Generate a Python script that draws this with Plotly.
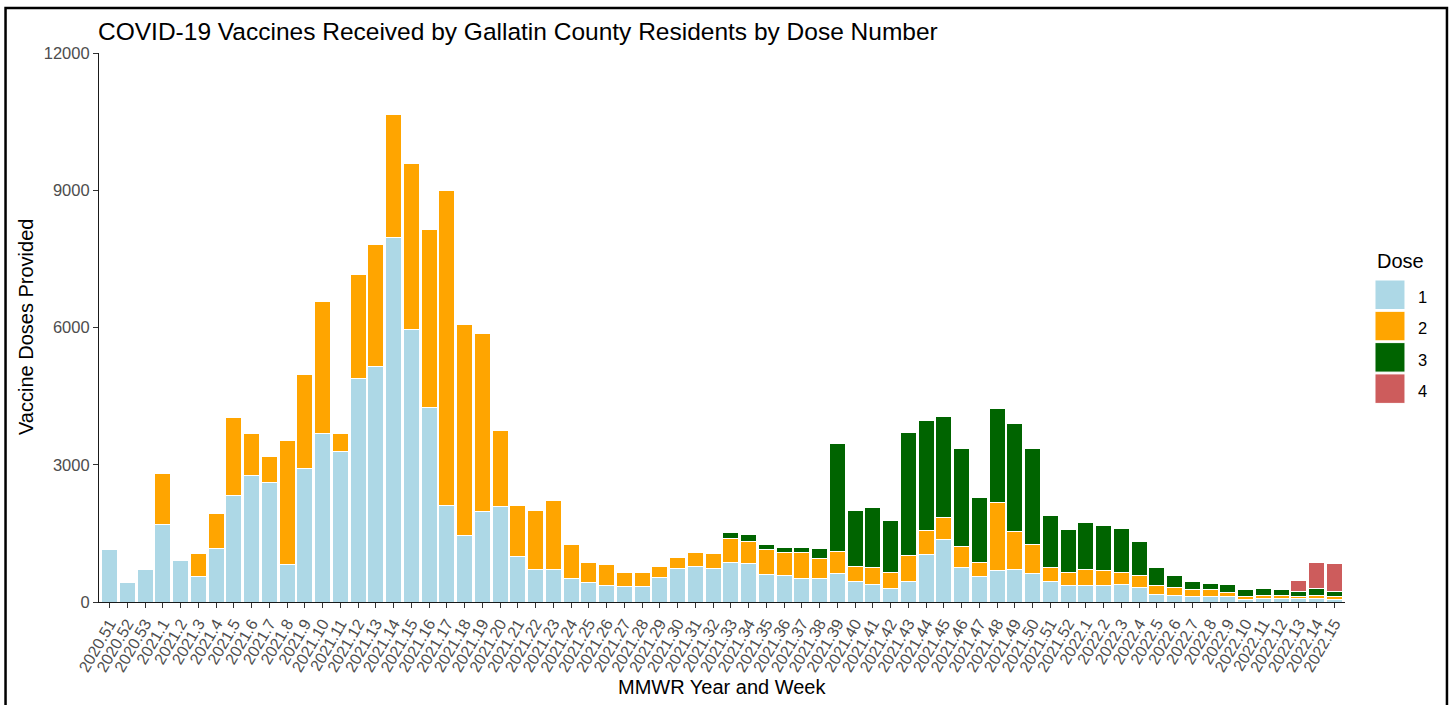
import plotly.graph_objects as go

# MMWR year.week categories
weeks = [
    "2020.51", "2020.52", "2020.53",
    "2021.1", "2021.2", "2021.3", "2021.4", "2021.5", "2021.6", "2021.7", "2021.8",
    "2021.9", "2021.10", "2021.11", "2021.12", "2021.13", "2021.14", "2021.15", "2021.16",
    "2021.17", "2021.18", "2021.19", "2021.20", "2021.21", "2021.22", "2021.23", "2021.24",
    "2021.25", "2021.26", "2021.27", "2021.28", "2021.29", "2021.30", "2021.31", "2021.32",
    "2021.33", "2021.34", "2021.35", "2021.36", "2021.37", "2021.38", "2021.39", "2021.40",
    "2021.41", "2021.42", "2021.43", "2021.44", "2021.45", "2021.46", "2021.47", "2021.48",
    "2021.49", "2021.50", "2021.51", "2021.52",
    "2022.1", "2022.2", "2022.3", "2022.4", "2022.5", "2022.6", "2022.7", "2022.8",
    "2022.9", "2022.10", "2022.11", "2022.12", "2022.13", "2022.14", "2022.15",
]

dose1 = [
    1140, 420, 715,
    1690, 910, 565, 1165, 2320, 2765, 2620, 815,
    2920, 3675, 3290, 4880, 5150, 7960, 5960, 4250,
    2105, 1445, 1980, 2080, 990, 720, 720, 520,
    425, 365, 330, 330, 540, 725, 780, 725,
    870, 840, 600, 570, 510, 510, 630, 445,
    385, 300, 445, 1045, 1375, 765, 565, 690,
    710, 620, 445, 350,
    350, 350, 380, 320, 170, 140, 110, 110,
    110, 55, 80, 80, 80, 80, 55,
]
dose2 = [
    0, 0, 0,
    1110, 30, 490, 760, 1715, 910, 570, 2715,
    2050, 2900, 385, 2270, 2660, 2690, 3615, 3890,
    6900, 4625, 3890, 1675, 1110, 1290, 1500, 745,
    445, 445, 325, 325, 240, 240, 300, 325,
    510, 480, 540, 510, 570, 445, 480, 335,
    365, 355, 575, 510, 480, 455, 300, 1495,
    840, 635, 320, 300,
    360, 330, 270, 270, 180, 180, 155, 155,
    95, 60, 60, 60, 30, 60, 55,
]
dose3 = [
    0, 0, 0,
    0, 0, 0, 0, 0, 0, 0, 0,
    0, 0, 0, 0, 0, 0, 0, 0,
    0, 0, 0, 0, 0, 0, 0, 0,
    0, 0, 0, 0, 0, 0, 0, 0,
    150, 155, 125, 120, 120, 215, 2365, 1230,
    1325, 1120, 2695, 2405, 2190, 2130, 1415, 2040,
    2350, 2095, 1120, 925,
    1020, 995, 965, 725, 395, 270, 180, 150,
    175, 150, 155, 125, 110, 155, 110,
]
dose4 = [
    0, 0, 0,
    0, 0, 0, 0, 0, 0, 0, 0,
    0, 0, 0, 0, 0, 0, 0, 0,
    0, 0, 0, 0, 0, 0, 0, 0,
    0, 0, 0, 0, 0, 0, 0, 0,
    0, 0, 0, 0, 0, 0, 0, 0,
    0, 0, 0, 0, 0, 0, 0, 0,
    0, 0, 0, 0,
    0, 0, 0, 0, 0, 0, 0, 0,
    0, 0, 0, 0, 255, 570, 615,
]

dose_names = ["1", "2", "3", "4"]
dose_colors = ["#ADD8E6", "#FFA500", "#006400", "#CD5C5C"]
y_ticks = [0, 3000, 6000, 9000, 12000]

FONT = "Liberation Sans, Arial, sans-serif"
W, H = 1455, 705
L, R, T, B = 98.5, 110, 53, 103
plot_w = W - L - R
plot_h = H - T - B


def px_x(px):
    # pixel column -> paper x
    return (px - L) / plot_w


def px_y(py):
    # pixel row -> paper y
    return (H - B - py) / plot_h


fig = go.Figure()
for name, vals, col in zip(dose_names, [dose1, dose2, dose3, dose4], dose_colors):
    fig.add_trace(go.Bar(
        x=weeks, y=vals, name=name,
        marker=dict(color=col, line=dict(color="white", width=1)),
        showlegend=False,
    ))

# hand-made legend, ggplot style keys
annotations = [
    dict(text="Dose", x=px_x(1375), y=px_y(261), xref="paper", yref="paper",
         xanchor="left", yanchor="middle", showarrow=False,
         font=dict(family=FONT, size=20, color="black")),
    dict(text="MMWR Year and Week", x=0.5, y=px_y(687), xref="paper", yref="paper",
         xanchor="center", yanchor="middle", showarrow=False,
         font=dict(family=FONT, size=20, color="black")),
    dict(text="Vaccine Doses Provided", x=px_x(25), y=0.5, xref="paper", yref="paper",
         xanchor="center", yanchor="middle", textangle=-90, showarrow=False,
         font=dict(family=FONT, size=20, color="black")),
]
shapes = []
for i, (name, col) in enumerate(zip(dose_names, dose_colors)):
    top = 280 + 31.3 * i
    shapes.append(dict(type="rect", xref="paper", yref="paper",
                       x0=px_x(1375), x1=px_x(1405), y0=px_y(top), y1=px_y(top + 29.5),
                       fillcolor=col, line=dict(color="white", width=1)))
    annotations.append(dict(text=name, x=px_x(1416), y=px_y(top + 17), xref="paper", yref="paper",
                            xanchor="left", yanchor="middle", showarrow=False,
                            font=dict(family=FONT, size=16.5, color="black")))

# outer frame around the picture
shapes.append(dict(type="rect", xref="paper", yref="paper",
                   x0=px_x(5), x1=px_x(1447), y0=px_y(730), y1=px_y(8),
                   line=dict(color="black", width=2.5), fillcolor="rgba(0,0,0,0)"))

fig.update_layout(
    width=W, height=H,
    margin=dict(l=L, r=R, t=T, b=B),
    barmode="stack",
    bargap=0.1,
    plot_bgcolor="white",
    paper_bgcolor="white",
    font=dict(family=FONT, color="#4D4D4D"),
    title=dict(text="COVID-19 Vaccines Received by Gallatin County Residents by Dose Number",
               x=98 / W, xref="container", xanchor="left",
               y=1 - 31 / H, yref="container", yanchor="middle",
               font=dict(family=FONT, size=24.5, color="black")),
    annotations=annotations,
    shapes=shapes,
)
fig.update_xaxes(
    type="category",
    tickmode="array", tickvals=weeks, ticktext=weeks,
    tickangle=-60,
    range=[-0.6, len(weeks) - 0.4],
    showline=True, linecolor="#1A1A1A", linewidth=1.2,
    ticks="outside", ticklen=5, tickcolor="#333333", tickwidth=1.2,
    tickfont=dict(family=FONT, size=16, color="#4D4D4D"),
    showgrid=False, zeroline=False,
)
fig.update_yaxes(
    range=[0, 12000],
    tickmode="array", tickvals=y_ticks, ticktext=[str(v) for v in y_ticks],
    showline=True, linecolor="#1A1A1A", linewidth=1.2,
    ticks="outside", ticklen=5, tickcolor="#333333", tickwidth=1.2,
    tickfont=dict(family=FONT, size=16.5, color="#4D4D4D"),
    showgrid=False, zeroline=False,
)

# drop the browser's default 8px body margin so the figure sits at the page corner
fig.write_html("out.html", config={"displayModeBar": False},
               post_script="document.body.style.margin='0';")
